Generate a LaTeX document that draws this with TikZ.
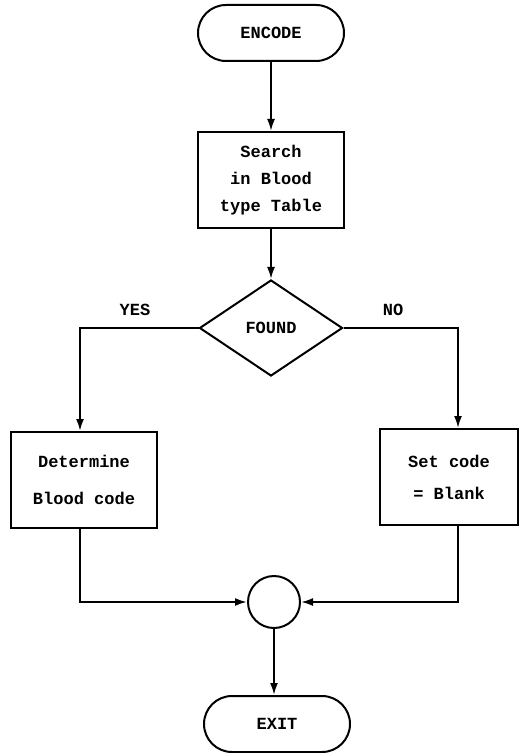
\documentclass[tikz,border=0pt]{standalone}
\usepackage{fontspec}
\setmonofont{Liberation Mono}
\usetikzlibrary{shapes.geometric,shapes.misc,arrows.meta}

\begin{document}
\begin{tikzpicture}[x=0.5pt,y=-0.5pt,line width=1pt,
  font=\ttfamily\bfseries\fontsize{8.5}{13.5}\selectfont,
  terminal/.style={draw,rounded rectangle,minimum width=73pt,minimum height=28pt,inner sep=0pt},
  procbox/.style={draw,rectangle,minimum width=73pt,minimum height=48pt,align=center,inner sep=0pt},
  decision/.style={draw,diamond,aspect=1.5,minimum width=71.5pt,minimum height=48pt,inner sep=0pt},
  joint/.style={draw,circle,minimum size=26pt,inner sep=0pt},
  flow/.style={-{Latex[length=6pt,width=4pt]}}]
  \useasboundingbox (0,0) rectangle (520,753);
  \node[terminal] (encode) at (271,33) {ENCODE};
  \node[procbox] (search) at (271,180) {Search\\in Blood\\type Table};
  \node[decision] (found) at (271,328) {FOUND};
  \node[procbox] (determine) at (84,480) {Determine\\[5pt]Blood code};
  \node[procbox,minimum width=69pt] (setcode) at (449,477) {Set code\\[2.5pt]= Blank};
  \node[joint] (join) at (274,602) {};
  \node[terminal] (exit) at (277,724) {EXIT};
  \draw[flow] (encode) -- (search);
  \draw[flow] (search) -- (found);
  \draw[flow] (found.west) -| ([xshift=-2pt]determine.north);
  \draw[flow] (found.east) -| ([xshift=4.5pt]setcode.north);
  \node at (135,310) {YES};
  \node at (393,310) {NO};
  \draw[flow] ([xshift=-2pt]determine.south) |- (join.west);
  \draw[flow] ([xshift=4.5pt]setcode.south) |- (join.east);
  \draw[flow] (join.south) -- (join.south |- exit.north);
\end{tikzpicture}
\end{document}
